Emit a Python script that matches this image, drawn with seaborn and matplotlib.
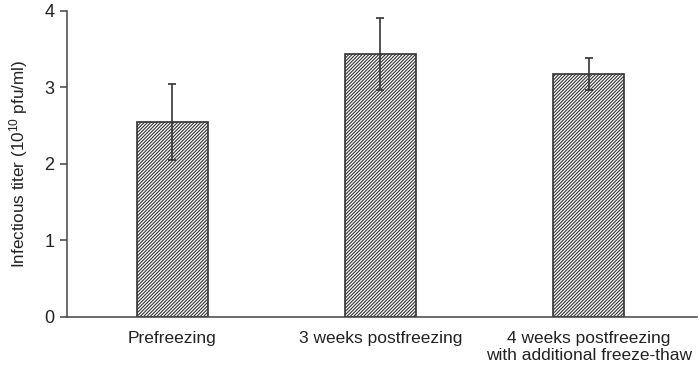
'''
Bar chart of infectious titer before and after freezing.
'''
import matplotlib
matplotlib.use('Agg')
import matplotlib.pyplot as plt
import numpy as np
import pandas as pd
import seaborn as sns

categories = ['Prefreezing', '3 weeks postfreezing',
              '4 weeks postfreezing\nwith additional freeze-thaw']
titer = [2.55, 3.44, 3.18]
titer_err = [0.50, 0.47, 0.21]
yticks = [0, 1, 2, 3, 4]

sns.set_style('ticks')
plt.rcParams['font.family'] = ['Liberation Sans', 'DejaVu Sans']
plt.rcParams['mathtext.default'] = 'regular'
plt.rcParams['hatch.linewidth'] = 0.8
plt.rcParams['hatch.color'] = '#333333'

df = pd.DataFrame({'condition': categories, 'titer': titer})

fig = plt.figure(figsize=(7, 3.66), dpi=100)
ax = fig.add_axes([0.0957, 0.134, 0.9, 0.836])

sns.barplot(data=df, x='condition', y='titer', order=categories, width=0.34,
            color='white', edgecolor='#333333', linewidth=1.2,
            errorbar=None, ax=ax)
for bar in ax.patches:
    bar.set_hatch('//////////')

ax.errorbar(np.arange(len(categories)), titer, yerr=titer_err, fmt='none',
            ecolor='#333333', elinewidth=1.2, capsize=2.8, capthick=1.2)

ax.set_xlim(-0.505, 2.52)
ax.set_ylim(0, 4)
ax.set_yticks(yticks)
ax.set_xlabel('')
ax.set_ylabel('Infectious titer (10$^{10}$ pfu/ml)', fontsize=12.3, color='#222222', labelpad=10)

sns.despine(ax=ax)
for side in ['left', 'bottom']:
    ax.spines[side].set_color('#444444')
    ax.spines[side].set_linewidth(1.1)

ax.tick_params(axis='y', length=5, width=1.1, color='#444444', labelsize=13, labelcolor='#222222', pad=4)
ax.tick_params(axis='x', length=0, labelsize=12.5, labelcolor='#222222', pad=10)

fig.savefig('out.png', dpi=100)
